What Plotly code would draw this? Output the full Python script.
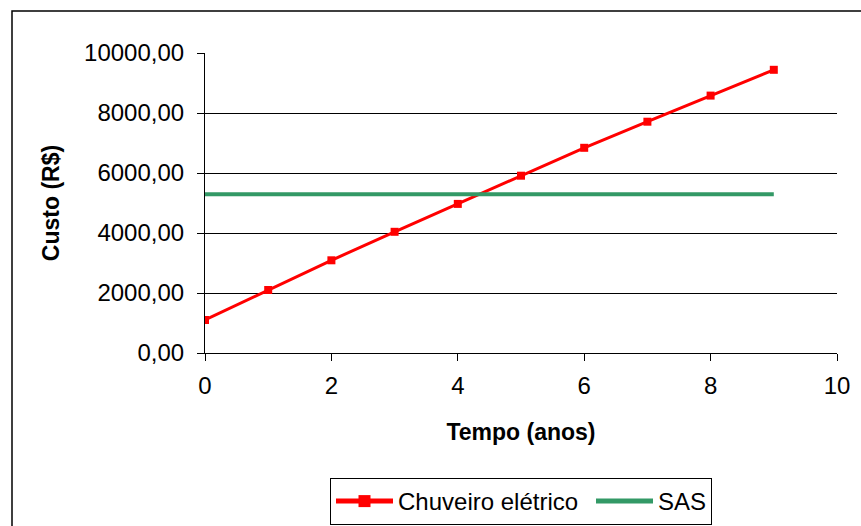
import plotly.graph_objects as go

anos = [0, 1, 2, 3, 4, 5, 6, 7, 8, 9]
chuveiro = [1100, 2100, 3090, 4040, 4970, 5910, 6840, 7710, 8580, 9440]
sas = [5290, 5290, 5290, 5290, 5290, 5290, 5290, 5290, 5290, 5290]

FONT = "Liberation Sans, Arial, sans-serif"

fig = go.Figure()
fig.add_trace(go.Scatter(
    x=anos, y=chuveiro, name="Chuveiro elétrico", mode="lines+markers",
    line=dict(color="#FF0000", width=3),
    marker=dict(symbol="square", size=8, color="#FF0000"),
    legendwidth=188,
))
fig.add_trace(go.Scatter(
    x=anos, y=sas, name="SAS", mode="lines",
    line=dict(color="#339966", width=4),
    legendwidth=48,
))

W, H = 861, 526
L, R, T, B = 205, 24, 53, 173
pw, ph = W - L - R, H - T - B

def px(x):
    return (x - L) / pw

def py(y):
    return (H - B - y) / ph

fig.update_layout(
    width=W, height=H,
    margin=dict(l=L, r=R, t=T, b=B, pad=0, autoexpand=False),
    paper_bgcolor="white", plot_bgcolor="white",
    separators=", ",
    font=dict(family=FONT, size=24, color="black"),
    showlegend=True,
    legend=dict(
        orientation="h", x=0.5, xanchor="center", y=py(478), yanchor="top",
        bordercolor="black", borderwidth=1, bgcolor="white",
        font=dict(size=24), itemsizing="constant", itemwidth=57,
    ),
    xaxis=dict(
        range=[0, 10], dtick=2, tick0=0, showgrid=False, zeroline=False,
        showline=True, linecolor="black", linewidth=1, automargin=False,
        ticks="outside", ticklen=7, tickcolor="black",
        ticklabelstandoff=4,
        title=dict(text="<b>Tempo (anos)</b>", standoff=26, font=dict(size=23)),
    ),
    yaxis=dict(
        range=[0, 10000], dtick=2000, tick0=0, tickformat=".2f",
        showgrid=True, gridcolor="black", gridwidth=1, zeroline=False,
        showline=True, linecolor="black", linewidth=1, automargin=False,
        ticks="outside", ticklen=7, tickcolor="black",
        ticklabelstandoff=8,
        title=dict(text="<b>Custo (R$)</b>", standoff=18, font=dict(size=23)),
    ),
    shapes=[dict(
        type="rect", xref="paper", yref="paper",
        x0=px(12), x1=px(880), y0=py(545), y1=py(11),
        line=dict(color="black", width=1.5), fillcolor="rgba(0,0,0,0)",
        layer="below",
    )],
)

fig.write_html("out.html")
